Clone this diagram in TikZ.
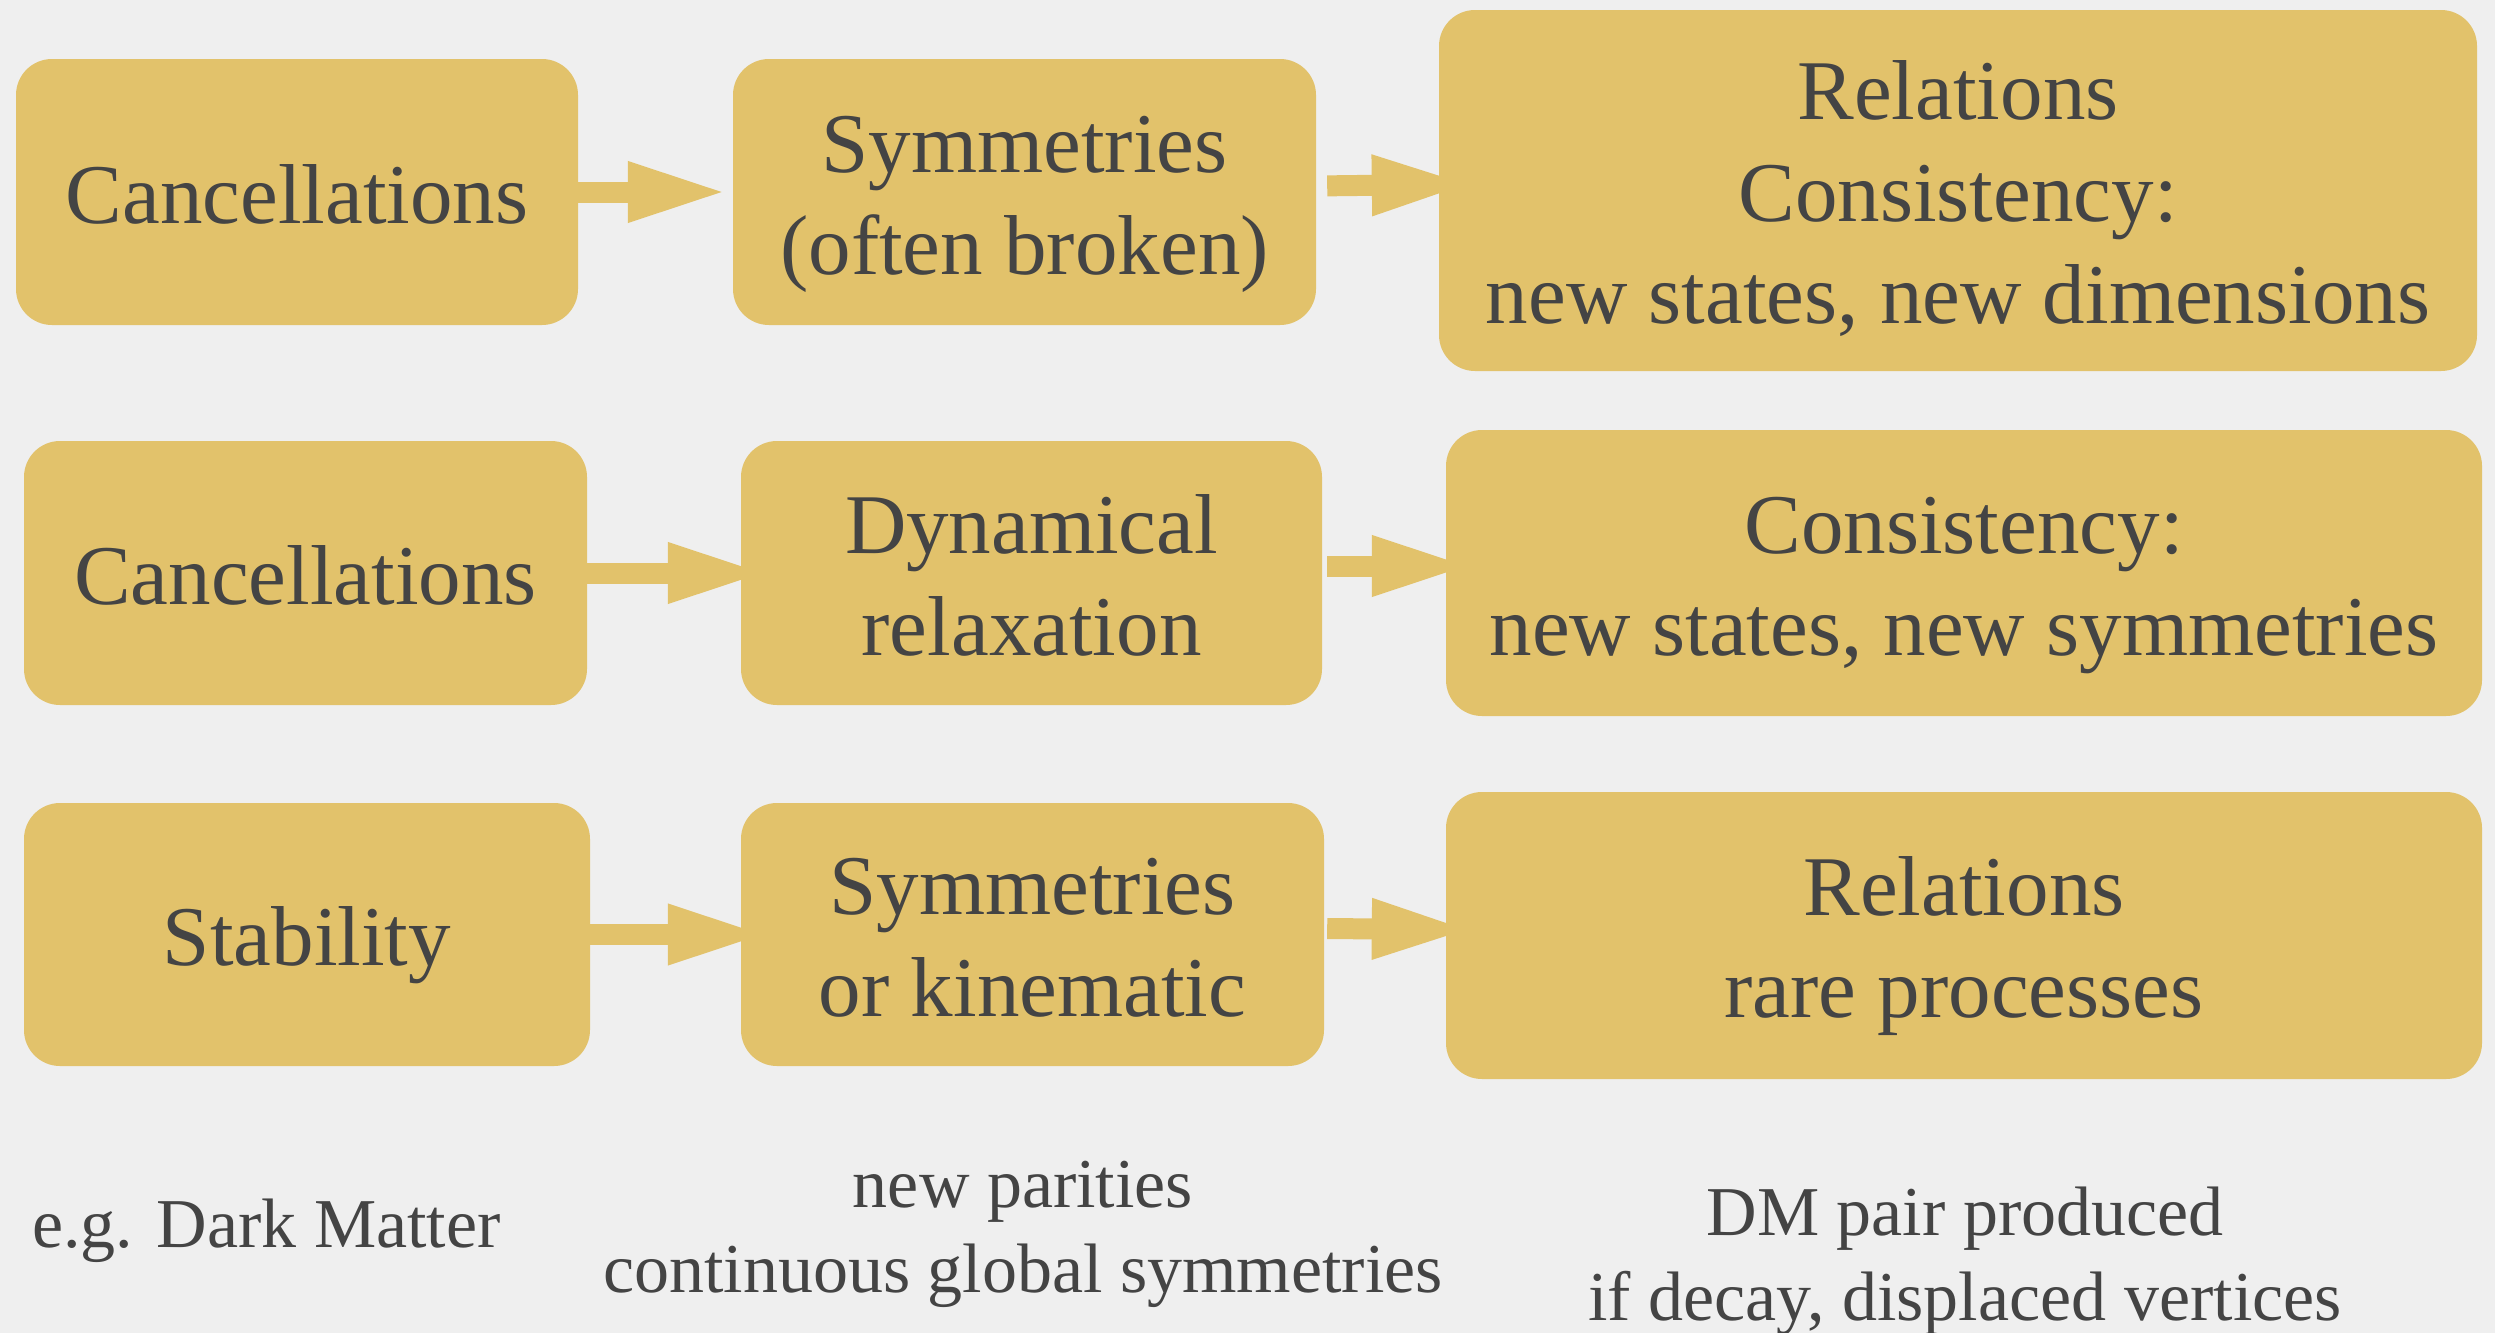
\documentclass[tikz,border=0pt]{standalone}
\usepackage{fontspec}
\setmainfont{Liberation Serif}
\usetikzlibrary{arrows.meta}
\definecolor{boxfill}{HTML}{E2C26B}
\definecolor{txt}{HTML}{444444}
\definecolor{bgc}{HTML}{EFEFEF}
\newcommand\bigtxt{\fontsize{85}{102}\selectfont}
\newcommand\smtxt{\fontsize{70}{85}\selectfont}
\newcommand\ls{\rule[-20pt]{0pt}{102pt}}
\pgfdeclarelayer{bg}
\pgfsetlayers{bg,main}
\tikzset{
  box/.style={rectangle, rounded corners=36pt, fill=boxfill, inner sep=0pt,
    align=center, font=\bigtxt, text=txt},
  note/.style={inner sep=0pt, align=center, font=\smtxt, text=txt},
  arr/.style={line width=21pt, draw=boxfill, fill=boxfill,
    -{Triangle[length=100pt,width=55pt]}}
}
\begin{document}
\begin{tikzpicture}[x=1pt,y=-1pt]
\useasboundingbox (0,0) rectangle (2495,1333);
% row 1
\node[box, minimum width=562pt, minimum height=266pt] (A1) at (297,192) {\ls Cancellations};
\node[box, minimum width=583pt, minimum height=266pt] (B1) at (1024.5,192) {\ls Symmetries\\\ls(often broken)};
\node[box, minimum width=1038pt, minimum height=361pt] (C1) at (1958,190.5) {\ls Relations\\\ls Consistency:\\\ls new states, new dimensions};
% row 2
\node[box, minimum width=563pt, minimum height=264pt] (A2) at (305.5,573) {\ls Cancellations};
\node[box, minimum width=581pt, minimum height=264pt] (B2) at (1031.5,573) {\ls Dynamical\\\ls relaxation};
\node[box, minimum width=1036pt, minimum height=286pt] (C2) at (1964,573) {\ls Consistency:\\\ls new states, new symmetries};
% row 3
\node[box, minimum width=566pt, minimum height=263pt] (A3) at (307,934.5) {\ls Stability};
\node[box, minimum width=583pt, minimum height=263pt] (B3) at (1032.5,934.5) {\ls Symmetries\\\ls or kinematic};
\node[box, minimum width=1036pt, minimum height=287pt] (C3) at (1964,935.5) {\ls Relations\\\ls rare processes};
% notes
\node[note, anchor=west] (N1) at (32,1231) {e.g. Dark Matter};
\node[note] (N2) at (1023,1234) {new parities\\continuous global symmetries};
\node[note] (N3) at (1965,1261) {DM pair produced\\if decay, displaced vertices};
\begin{pgfonlayer}{bg}
\fill[bgc] (0,0) rectangle (2495,1333);
\draw[arr, shorten >=5pt] (A1.east) -- (B1.west);
\draw[arr, shorten <=11pt, shorten >=-33pt] ([yshift=6pt]B1.east) -- ([yshift=6pt]C1.west);
\draw[arr, shorten >=-27pt] (A2.east) -- (B2.west);
\draw[arr, shorten <=5pt, shorten >=-26pt] ([yshift=7pt]B2.east) -- ([yshift=7pt]C2.west);
\draw[arr, shorten >=-27pt] (A3.east) -- (B3.west);
\draw[arr, shorten <=3pt, shorten >=-26pt] ([yshift=6pt]B3.east) -- ([yshift=6pt]C3.west);
\end{pgfonlayer}
\end{tikzpicture}
\end{document}
